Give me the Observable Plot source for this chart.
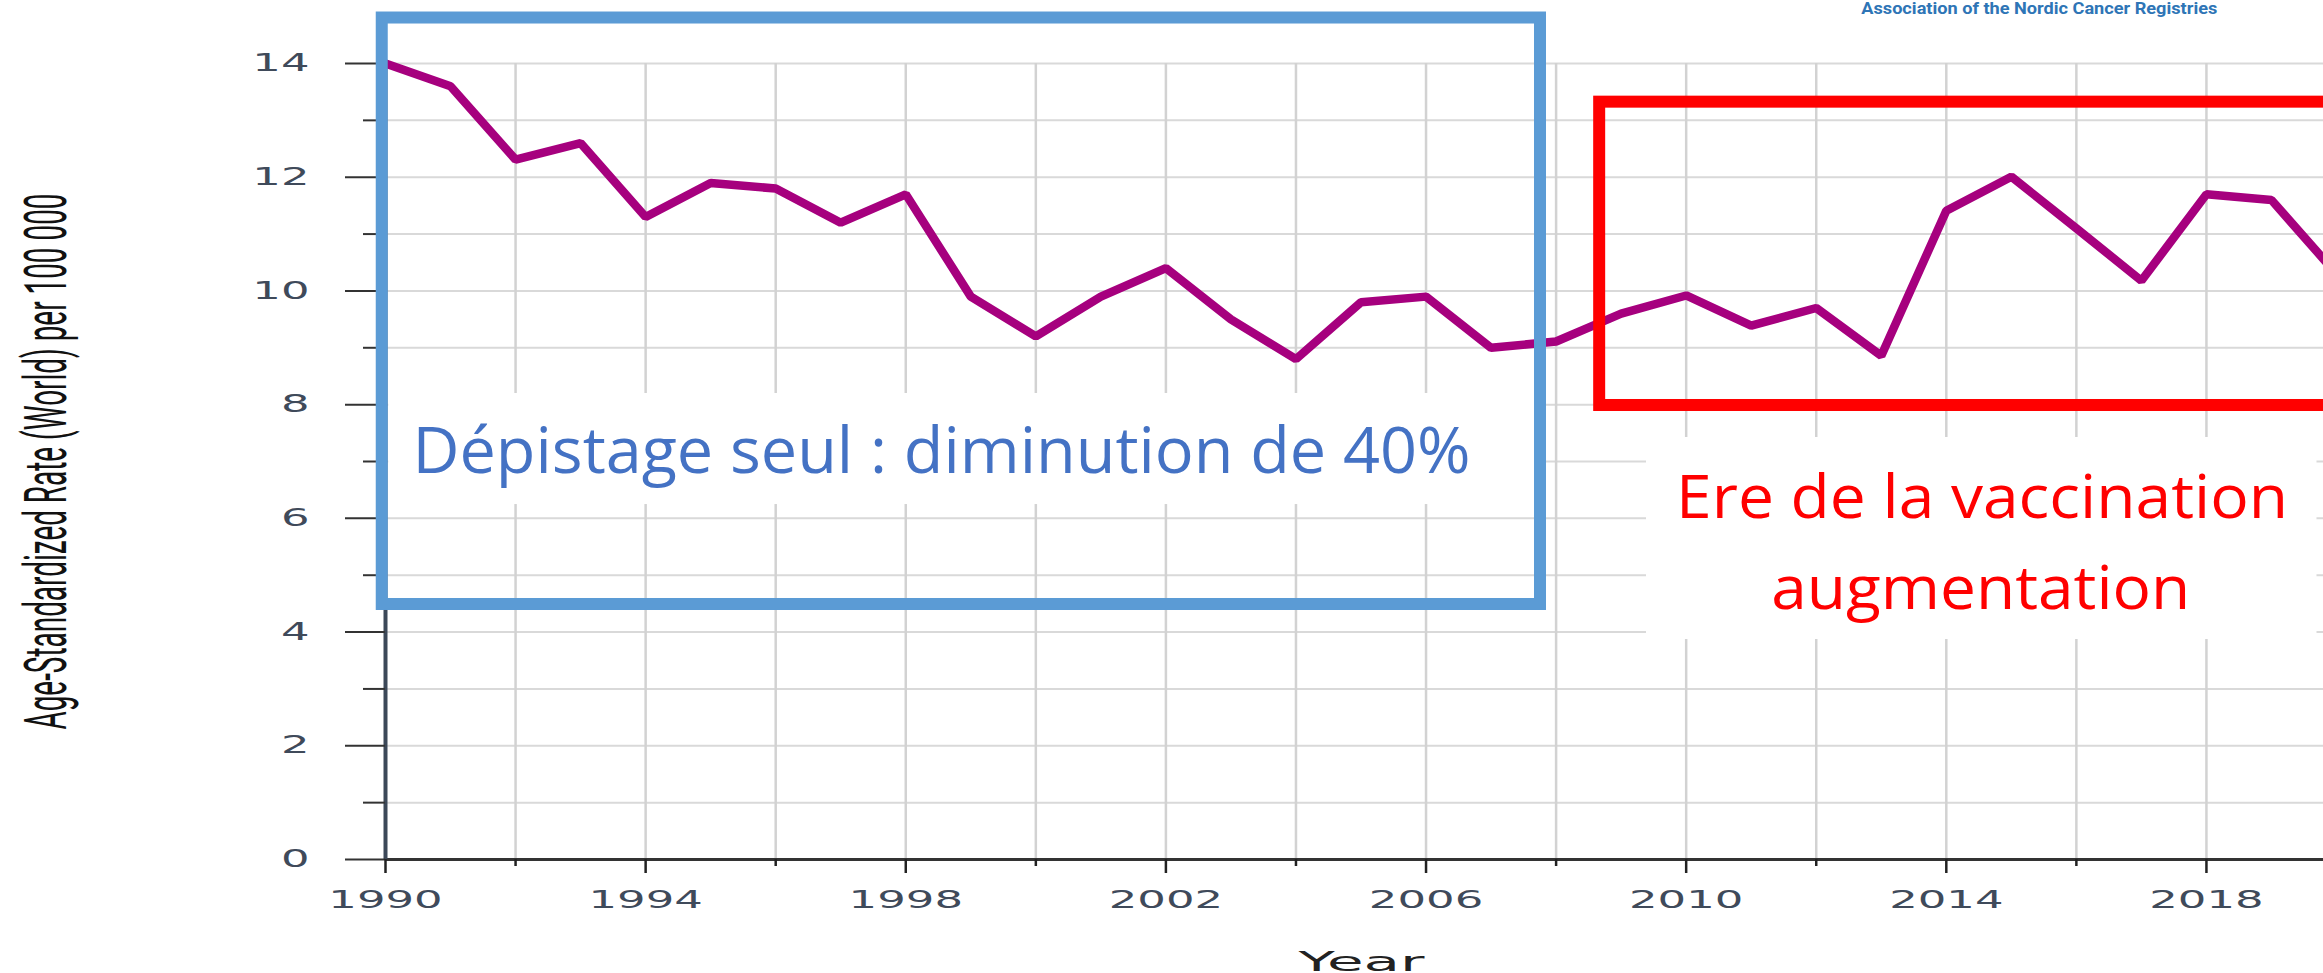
<!DOCTYPE html>
<html>
<head>
<meta charset="utf-8">
<script src="https://cdn.jsdelivr.net/npm/d3@7"></script>
<script src="https://cdn.jsdelivr.net/npm/@observablehq/plot@0.6"></script>
<style>
  html, body { margin: 0; padding: 0; background: white; overflow: hidden; }
</style>
</head>
<body>
<script>
// ---- data ----
const years = [1990, 1991, 1992, 1993, 1994, 1995, 1996, 1997, 1998, 1999,
               2000, 2001, 2002, 2003, 2004, 2005, 2006, 2007, 2008, 2009,
               2010, 2011, 2012, 2013, 2014, 2015, 2016, 2017, 2018, 2019, 2020];
const rates = [14.0, 13.6, 12.31, 12.6, 11.3, 11.9, 11.8, 11.2, 11.7, 9.9,
               9.2, 9.9, 10.4, 9.5, 8.8, 9.8, 9.9, 9.0, 9.11, 9.6,
               9.92, 9.39, 9.7, 8.86, 11.41, 12.01, 11.1, 10.18, 11.7, 11.6, 10.3];
const yLabelTicks = [0, 2, 4, 6, 8, 10, 12, 14];
const yMinorTicks = [1, 3, 5, 7, 9, 11, 13];
const yGridTicks = [1, 2, 3, 4, 5, 6, 7, 8, 9, 10, 11, 12, 13, 14];
const xLabelTicks = [1990, 1994, 1998, 2002, 2006, 2010, 2014, 2018];
const xMinorTicks = [1992, 1996, 2000, 2004, 2008, 2012, 2016];
const xGridTicks = [1992, 1994, 1996, 1998, 2000, 2002, 2004, 2006, 2008, 2010, 2012, 2014, 2016, 2018];
const yAxisTitle = "Age-Standardized Rate (World) per 100 000";
const xAxisTitle = "Year";
const sourceTitle = "Association of the Nordic Cancer Registries";
const screeningLabel = "Dépistage seul : diminution de 40%";
const vaccineLabel1 = "Ere de la vaccination";
const vaccineLabel2 = "augmentation";

const data = years.map((y, i) => ({year: y, rate: rates[i]}));

const plot = Plot.plot({
  width: 2323,
  height: 973,
  marginLeft: 385,
  marginRight: 0,
  marginTop: 63,
  marginBottom: 114,
  x: {domain: [1990, 2019.8]},
  y: {domain: [0, 14]},
  style: {fontFamily: "DejaVu Sans", background: "white", overflow: "hidden"},
  marks: [
    Plot.gridY({ticks: yGridTicks, stroke: "#d9d9d9", strokeOpacity: 1, strokeWidth: 2}),
    Plot.gridX({ticks: xGridTicks, stroke: "#d2d2d2", strokeOpacity: 1, strokeWidth: 2.5}),
    // white backgrounds of the annotation text boxes
    Plot.rect([0], {x1: 1990.05, x2: 2007.67, y1: 6.243, y2: 8.196, fill: "white"}),
    Plot.rect([0], {x1: 2009.39, x2: 2019.70, y1: 3.869, y2: 7.422, fill: "white"}),
    // axes
    Plot.ruleY([0], {stroke: "#333", strokeWidth: 3}),
    Plot.ruleX([1990], {stroke: "#3c4858", strokeWidth: 4}),
    Plot.axisY({ticks: yLabelTicks, tickSize: 40, tickPadding: 36, fontSize: 24,
                fill: "#3f4a5a", stroke: "#333", strokeWidth: 2, label: null, tickFormat: d => String(d)}),
    Plot.axisY({ticks: yMinorTicks, tickSize: 22, stroke: "#333", strokeWidth: 2, label: null, tickFormat: () => ""}),
    Plot.axisX({ticks: xLabelTicks, tickSize: 14, tickPadding: 17, fontSize: 25,
                fill: "#3f4a5a", stroke: "#222", strokeWidth: 2.5, label: null, tickFormat: d => String(d)}),
    Plot.axisX({ticks: xMinorTicks, tickSize: 7, stroke: "#222", strokeWidth: 2.5, label: null, tickFormat: () => ""}),
    // data line
    Plot.line(data, {x: "year", y: "rate", stroke: "#a6007e", strokeWidth: 8.5, strokeLinejoin: "miter"}),
    // annotation boxes
    Plot.rect([0], {x1: 1989.95, x2: 2007.76, y1: 4.485, y2: 14.80, fill: "none", stroke: "#5b9bd5", strokeWidth: 12}),
    Plot.rect([0], {x1: 2008.67, x2: 2021, y1: 7.985, y2: 13.32, fill: "none", stroke: "#ff0000", strokeWidth: 12}),
    // texts
    Plot.text([screeningLabel], {x: 1998.55, y: 7.16, text: d => d, fill: "#4472c4", fontSize: 64,
              fontFamily: "Open Sans", textAnchor: "middle", lineAnchor: "middle"}),
    Plot.text([vaccineLabel1], {x: 2014.55, y: 6.35, text: d => d, fill: "#ff0000", fontSize: 60,
              fontFamily: "Open Sans", textAnchor: "middle", lineAnchor: "middle"}),
    Plot.text([vaccineLabel2], {x: 2014.53, y: 4.75, text: d => d, fill: "#ff0000", fontSize: 60,
              fontFamily: "Open Sans", textAnchor: "middle", lineAnchor: "middle"}),
    Plot.text([sourceTitle], {x: 2015.43, y: 14.97, text: d => d, fill: "#2e75b6", fontSize: 17,
              fontWeight: "bold", fontFamily: "Roboto", textAnchor: "middle", lineAnchor: "middle"}),
    Plot.text([yAxisTitle], {frameAnchor: "left", dx: -339, rotate: -90, text: d => d, fill: "#111",
              fontSize: 60, fontFamily: "Liberation Sans Narrow, Roboto", textAnchor: "middle", lineAnchor: "middle"}),
    Plot.text([xAxisTitle], {frameAnchor: "bottom", dx: 7, dy: 102.7, text: d => d, fill: "#222",
              fontSize: 26, fontFamily: "DejaVu Sans", textAnchor: "middle", lineAnchor: "middle"})
  ]
});

document.body.appendChild(plot);

// stretch texts to match the reference's widths
const lengths = new Map([
  [screeningLabel, 1058],
  [vaccineLabel1, 612],
  [vaccineLabel2, 419],
  [sourceTitle, 356],
  [yAxisTitle, 536],
  [xAxisTitle, 126]
]);
plot.querySelectorAll("text").forEach(t => {
  const s = t.textContent;
  let L = null;
  if (lengths.has(s)) L = lengths.get(s);
  else if (/^\d+$/.test(s)) L = 28.6 * s.length;
  if (L != null) {
    t.setAttribute("textLength", L);
    t.setAttribute("lengthAdjust", "spacingAndGlyphs");
  }
});
</script>
</body>
</html>
